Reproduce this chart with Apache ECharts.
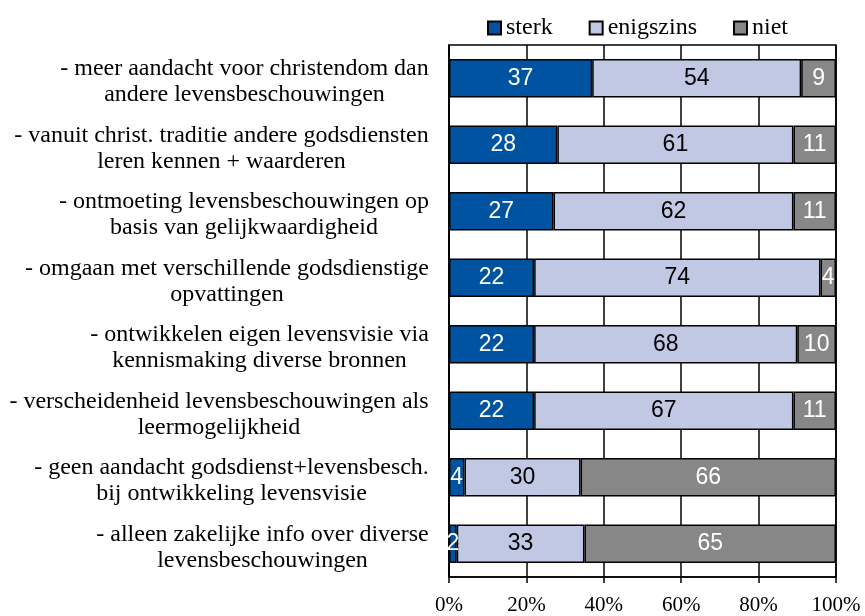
<!DOCTYPE html>
<html>
<head>
<meta charset="utf-8">
<script src="https://cdn.jsdelivr.net/npm/echarts@6/dist/echarts.min.js"></script>
<style>html,body{margin:0;padding:0;background:#fff;}#c{width:865px;height:616px;}</style>
</head>
<body>
<div id="c"></div>
<script>
const categories = [
  "- meer aandacht voor christendom dan\nandere levensbeschouwingen",
  "- vanuit christ. traditie andere godsdiensten\nleren kennen + waarderen",
  "- ontmoeting levensbeschouwingen op\nbasis van gelijkwaardigheid",
  "- omgaan met verschillende godsdienstige\nopvattingen",
  "- ontwikkelen eigen levensvisie via\nkennismaking diverse bronnen",
  "- verscheidenheid levensbeschouwingen als\nleermogelijkheid",
  "- geen aandacht godsdienst+levensbesch.\nbij ontwikkeling levensvisie",
  "- alleen zakelijke info over diverse\nlevensbeschouwingen"
];
const seriesNames = ["sterk", "enigszins", "niet"];
const sterk = [37, 28, 27, 22, 22, 22, 4, 2];
const enigszins = [54, 61, 62, 74, 68, 67, 30, 33];
const niet = [9, 11, 11, 4, 10, 11, 66, 65];
const xTicks = [0, 20, 40, 60, 80, 100];

const serif = "'Liberation Serif','Times New Roman',serif";
const sans = "'Liberation Sans',Arial,sans-serif";
const yFont = 24;

// per-category rich styles to center lines within each label block
const ctx = document.createElement('canvas').getContext('2d');
ctx.font = yFont + "px " + serif;
const rich = {};
categories.forEach((c, i) => {
  const w = Math.max(...c.split("\n").map(l => ctx.measureText(l).width));
  rich['b' + i] = {width: Math.ceil(w), align: 'center', fontFamily: serif, fontSize: yFont, color: '#000', lineHeight: 26};
});

const colors = ['#0053A0', '#C0C8E4', '#878787'];
const labelColors = ['#fff', '#000', '#fff'];
const dataSets = [sterk, enigszins, niet];

const chart = echarts.init(document.getElementById('c'), null, {renderer: 'canvas'});
chart.setOption({
  animation: false,
  backgroundColor: '#fff',
  legend: {
    data: seriesNames,
    top: 11,
    left: 482,
    itemWidth: 13,
    itemHeight: 13,
    itemGap: 36,
    icon: 'rect',
    textStyle: {fontFamily: serif, fontSize: 24, color: '#000'}
  },
  grid: {
    left: 449, right: 29, top: 45, bottom: 37,
    show: true, borderColor: '#000', borderWidth: 1.5, backgroundColor: 'transparent'
  },
  xAxis: {
    type: 'value', min: 0, max: 100, interval: 20,
    axisLine: {show: true, lineStyle: {color: '#000', width: 1.5}},
    axisTick: {show: true, length: 6, lineStyle: {color: '#000', width: 1.5}},
    axisLabel: {formatter: '{value}%', fontFamily: serif, fontSize: 21, color: '#000', margin: 18},
    splitLine: {show: true, lineStyle: {color: '#000', width: 1.5}}
  },
  yAxis: {
    type: 'category', inverse: true, data: categories,
    axisLine: {show: true, lineStyle: {color: '#000', width: 1.5}},
    axisTick: {show: false},
    axisLabel: {
      margin: 20,
      padding: [7, 0, 0, 0],
      formatter: function (v, i) {
        return v.split("\n").map(l => '{b' + i + '|' + l + '}').join("\n");
      },
      rich: rich
    }
  },
  series: seriesNames.map((name, k) => ({
    name: name,
    type: 'bar',
    stack: 'total',
    barCategoryGap: '42%',
    data: dataSets[k],
    itemStyle: {color: colors[k], borderColor: '#000', borderWidth: 1.5},
    label: {
      show: true, position: 'inside',
      color: labelColors[k], fontFamily: sans, fontSize: 23
    }
  }))
});
</script>
</body>
</html>
